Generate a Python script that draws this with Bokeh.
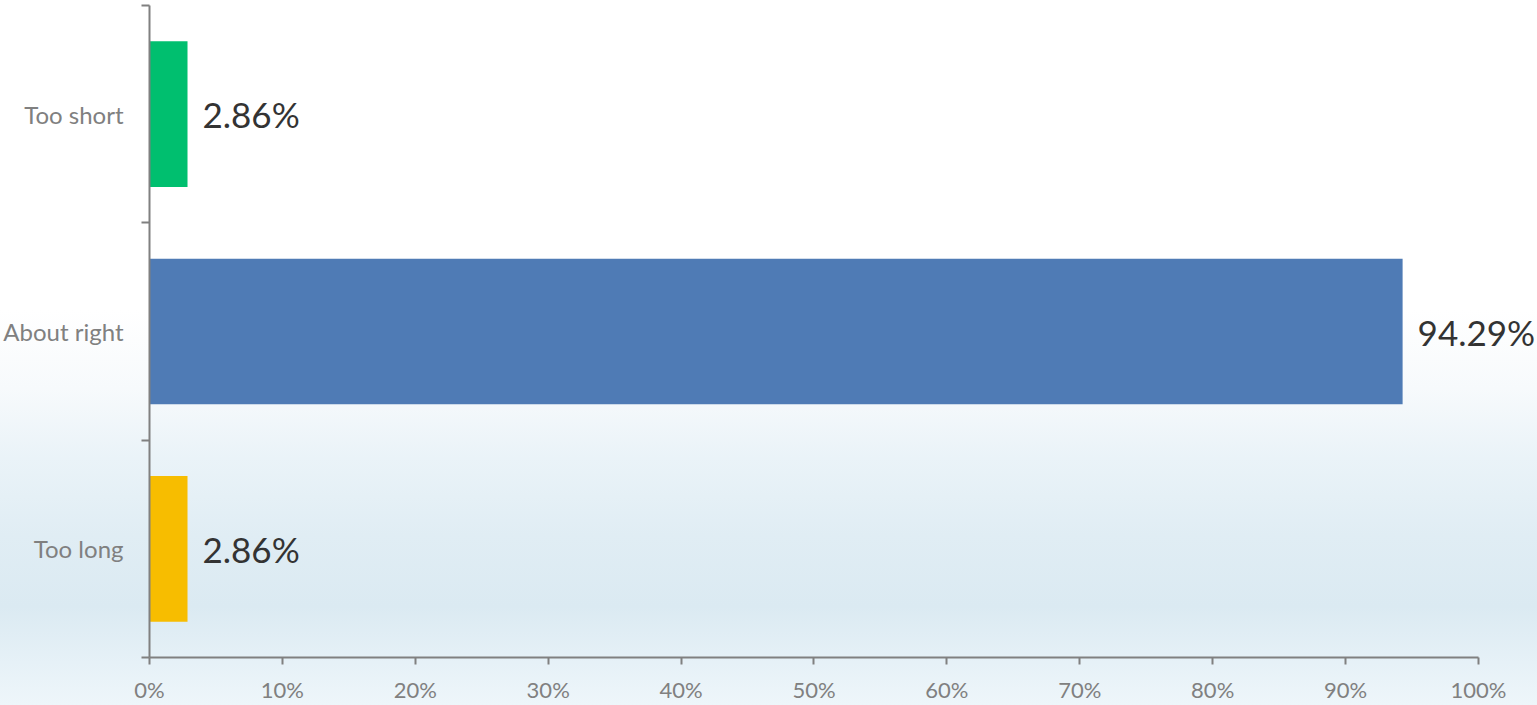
from bokeh.plotting import figure
from bokeh.models import ColumnDataSource, Range1d, FixedTicker, PrintfTickFormatter
from bokeh.core.properties import value
from bokeh.embed import file_html
from bokeh.resources import INLINE

# ---- data ----
categories = ["Too short", "About right", "Too long"]
percentages = [2.86, 94.29, 2.86]
bar_colors = ["#00BF6F", "#4F7BB5", "#F7BD00"]
value_labels = ["2.86%", "94.29%", "2.86%"]
x_ticks = [0, 10, 20, 30, 40, 50, 60, 70, 80, 90, 100]

n = len(categories)
# top-to-bottom order: first category at top
ypos = [n - i - 0.5 for i in range(n)]

src = ColumnDataSource(dict(cat=categories, val=percentages, color=bar_colors,
                            label=value_labels, y=ypos))

FONT = "Lato"
AXIS_COLOR = "#808080"

p = figure(width=1537, height=705, output_backend="svg", toolbar_location=None,
           x_range=Range1d(0, 104.44), y_range=Range1d(0, n),
           min_border_left=149, min_border_right=0, min_border_top=5, min_border_bottom=48)

p.background_fill_color = None
p.border_fill_color = None
p.outline_line_color = None
p.styles = {"background": "linear-gradient(to bottom, #ffffff 0%, #ffffff 44%, #f7fafc 55%, "
                          "#eaf3f8 65%, #e0edf4 76%, #dbeaf2 86%, #e6f1f7 94%, #eef6fa 100%)"}

p.hbar(y="y", right="val", left=0, height=0.67, fill_color="color", line_color=None, source=src)

p.text(x="val", y="y", text="label", source=src, x_offset=15,
       text_align="left", text_baseline="middle", text_font=value(FONT),
       text_font_size="35px", text_color="#333333")

p.xgrid.visible = False
p.ygrid.visible = False

# x axis
xa = p.xaxis[0]
xa.ticker = FixedTicker(ticks=x_ticks, minor_ticks=[])
xa.formatter = PrintfTickFormatter(format="%d%%")
xa.bounds = (0, 100)
xa.axis_line_color = AXIS_COLOR
xa.axis_line_width = 2
xa.major_tick_line_color = AXIS_COLOR
xa.major_tick_line_width = 2
xa.major_tick_out = 7
xa.major_tick_in = 0
xa.minor_tick_line_color = None
xa.major_label_text_font = FONT
xa.major_label_text_font_size = "22px"
xa.major_label_text_color = "#808080"
xa.major_label_standoff = 11

# y axis
ya = p.yaxis[0]
ya.ticker = FixedTicker(ticks=ypos, minor_ticks=list(range(n + 1)))
ya.major_label_overrides = {y: c for y, c in zip(ypos, categories)}
ya.axis_line_color = AXIS_COLOR
ya.axis_line_width = 2
ya.major_tick_line_color = None
ya.major_tick_out = 0
ya.major_tick_in = 0
ya.minor_tick_line_color = AXIS_COLOR
ya.minor_tick_line_width = 2
ya.minor_tick_out = 8
ya.minor_tick_in = 0
ya.major_label_text_font = FONT
ya.major_label_text_font_size = "24px"
ya.major_label_text_color = "#808080"
ya.major_label_standoff = 18

open("out.html", "w").write(file_html(p, INLINE))
